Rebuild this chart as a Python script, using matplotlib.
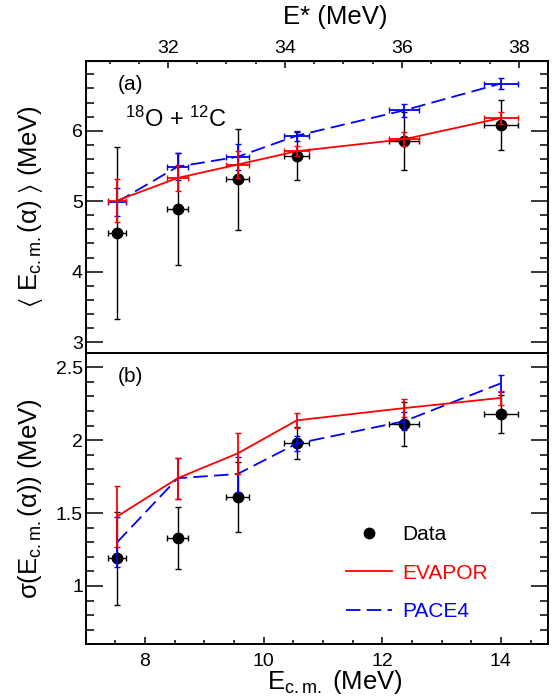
import matplotlib
matplotlib.use("Agg")
import matplotlib.pyplot as plt
from matplotlib.lines import Line2D
from matplotlib.ticker import MultipleLocator

plt.rcParams['font.family'] = ['Liberation Sans', 'DejaVu Sans']
plt.rcParams['mathtext.fontset'] = 'custom'
plt.rcParams['mathtext.rm'] = 'Liberation Sans'
plt.rcParams['mathtext.it'] = 'Liberation Sans:italic'
plt.rcParams['mathtext.fallback'] = 'stixsans'

# beam energies (c.m.) and their spread
ecm = [7.53, 8.55, 9.56, 10.56, 12.37, 14.0]
ecm_err = [0.15, 0.18, 0.20, 0.21, 0.25, 0.29]

# (a) mean alpha energy
mean_data = [4.55, 4.89, 5.31, 5.64, 5.85, 6.08]
mean_data_err = [1.22, 0.80, 0.72, 0.34, 0.41, 0.36]
mean_evapor = [5.01, 5.33, 5.52, 5.71, 5.88, 6.18]
mean_evapor_err = [0.30, 0.19, 0.19, 0.07, 0.10, 0.08]
mean_pace = [4.99, 5.49, 5.63, 5.93, 6.29, 6.67]
mean_pace_err = [0.20, 0.19, 0.18, 0.07, 0.09, 0.08]

# (b) width of alpha energy distribution
sig_data = [1.19, 1.33, 1.61, 1.98, 2.11, 2.18]
sig_data_err = [0.32, 0.215, 0.24, 0.11, 0.15, 0.13]
sig_evapor = [1.477, 1.739, 1.909, 2.136, 2.22, 2.29]
sig_evapor_err = [0.21, 0.14, 0.14, 0.05, 0.06, 0.05]
sig_pace = [1.30, 1.739, 1.768, 1.977, 2.13, 2.39]
sig_pace_err = [0.17, 0.14, 0.12, 0.05, 0.06, 0.06]

RED = '#ff0000'
BLUE = '#0000ff'
W, H = 559, 699

fig = plt.figure(figsize=(W / 100, H / 100), dpi=100)
left, right = 85.7 / W, 548.3 / W
ax1 = fig.add_axes([left, 1 - 352.7 / H, right - left, (352.7 - 61) / H])
ax2 = fig.add_axes([left, 1 - 644.3 / H, right - left, (644.3 - 352.7) / H])


def style(ax):
    for s in ax.spines.values():
        s.set_linewidth(1.4)
    ax.tick_params(axis='y', which='both', direction='in', left=True, right=True,
                   labelsize=14, pad=2, width=1.1)
    ax.tick_params(axis='y', which='major', length=12)
    ax.tick_params(axis='y', which='minor', length=5.8)
    ax.set_xlim(7.0, 14.8)
    ax.xaxis.set_major_locator(MultipleLocator(2))
    ax.xaxis.set_minor_locator(MultipleLocator(0.5))


# ---- (a)
style(ax1)
ax1.errorbar(ecm, mean_data, yerr=mean_data_err, xerr=ecm_err, fmt='o', color='k',
             ms=7.5, elinewidth=1.0, capsize=2.5, capthick=1.0, zorder=2)
ax1.errorbar(ecm, mean_evapor, yerr=mean_evapor_err, xerr=ecm_err, color=RED, lw=1.3,
             elinewidth=1.3, capsize=2.5, capthick=1.0, zorder=4)
ax1.errorbar(ecm, mean_pace, yerr=mean_pace_err, xerr=ecm_err, color=BLUE, lw=1.3,
             dashes=(8, 3.5), elinewidth=1.3, capsize=2.5, capthick=1.0, zorder=3)
ax1.set_ylim(2.85, 6.99)
ax1.yaxis.set_major_locator(MultipleLocator(1))
ax1.yaxis.set_minor_locator(MultipleLocator(0.2))
ax1.tick_params(axis='x', which='both', bottom=False, labelbottom=False, top=False)
ax1.set_ylabel(r'$\langle$ E$_{\rm c.m.}$(α) $\rangle$ (MeV)', fontsize=18.5, va='center')
ax1.yaxis.set_label_coords(-0.12, 0.5)
ax1.text(0.097, 0.92, '(a)', transform=ax1.transAxes, fontsize=15, ha='center', va='center')
ax1.text(0.085, 0.80, r'$^{18}$O + $^{12}$C', transform=ax1.transAxes, fontsize=17,
         ha='left', va='center')

sec = ax1.secondary_xaxis('top', functions=(lambda e: 1.01419 * e + 23.4933,
                                             lambda s: (s - 23.4933) / 1.01419))
sec.xaxis.set_major_locator(MultipleLocator(2))
sec.xaxis.set_minor_locator(MultipleLocator(0.5))
sec.tick_params(axis='x', which='both', direction='in', labelsize=14, pad=3, width=1.1)
sec.tick_params(axis='x', which='major', length=5)
sec.tick_params(axis='x', which='minor', length=2.5)
sec.set_xlabel('E* (MeV)', fontsize=18.5, va='center')
sec.xaxis.set_label_coords(0.539, 1.151, transform=ax1.transAxes)

# ---- (b)
style(ax2)
ax2.errorbar(ecm, sig_data, yerr=sig_data_err, xerr=ecm_err, fmt='o', color='k',
             ms=7.5, elinewidth=1.0, capsize=2.5, capthick=1.0, zorder=2)
ax2.errorbar(ecm, sig_evapor, yerr=sig_evapor_err, color=RED, lw=1.3,
             elinewidth=1.3, capsize=2.5, capthick=1.0, zorder=4)
ax2.errorbar(ecm, sig_pace, yerr=sig_pace_err, color=BLUE, lw=1.3,
             dashes=(8, 3.5), elinewidth=1.3, capsize=2.5, capthick=1.0, zorder=3)
ax2.set_ylim(0.6, 2.6)
ax2.yaxis.set_major_locator(MultipleLocator(0.5))
ax2.yaxis.set_minor_locator(MultipleLocator(0.1))
ax2.yaxis.set_major_formatter(plt.FuncFormatter(lambda v, p: f'{v:g}'))
ax2.tick_params(axis='x', which='both', direction='in', top=False, labelsize=14,
                pad=6, width=1.1)
ax2.tick_params(axis='x', which='major', length=5)
ax2.tick_params(axis='x', which='minor', length=2.7)
ax2.set_ylabel(r'σ(E$_{\rm c.m.}$(α)) (MeV)', fontsize=18.5, va='center')
ax2.yaxis.set_label_coords(-0.12, 0.5)
ax2.set_xlabel(r'E$_{\rm c.m.}$ (MeV)', fontsize=18.5, va='center')
ax2.xaxis.set_label_coords(0.539, -0.13)
ax2.text(0.097, 0.92, '(b)', transform=ax2.transAxes, fontsize=15, ha='center', va='center')

handles = [Line2D([], [], marker='o', ls='none', color='k', ms=7.5),
           Line2D([], [], color=RED, lw=1.3),
           Line2D([], [], color=BLUE, lw=1.3, dashes=(8, 3.5))]
ax2.legend(handles, ['Data', 'EVAPOR', 'PACE4'], loc='upper left',
           bbox_to_anchor=(0.563, 0.408), frameon=False, fontsize=15,
           handlelength=2.2, handletextpad=0.5, labelspacing=0.93,
           borderpad=0, borderaxespad=0, labelcolor='linecolor')

fig.savefig('out.png', dpi=100)
